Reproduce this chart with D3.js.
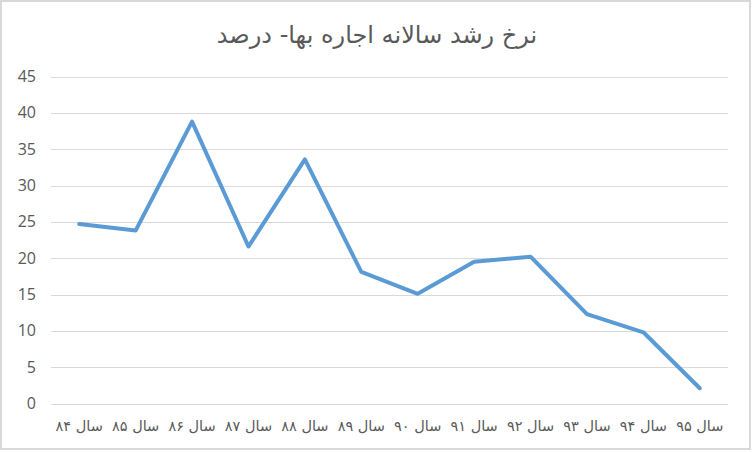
<!DOCTYPE html>
<html>
<head>
<meta charset="utf-8">
<script src="https://cdn.jsdelivr.net/npm/d3@7"></script>
<style>
html,body{margin:0;padding:0;background:#fff;}
svg{display:block;}
</style>
</head>
<body>
<svg id="chart" width="752" height="452"></svg>
<script>
const title = "نرخ رشد سالانه اجاره بها- درصد";
const categories = ["سال ۸۴","سال ۸۵","سال ۸۶","سال ۸۷","سال ۸۸","سال ۸۹","سال ۹۰","سال ۹۱","سال ۹۲","سال ۹۳","سال ۹۴","سال ۹۵"];
const values = [24.7, 23.8, 38.8, 21.6, 33.6, 18.1, 15.1, 19.5, 20.2, 12.3, 9.8, 2.1];
const yTicks = [0, 5, 10, 15, 20, 25, 30, 35, 40, 45];

const svg = d3.select("#chart");
const W = 752, H = 452;
const margin = {left: 51, right: 24, top: 76.5, bottom: 48.5};

svg.append("rect").attr("x",1).attr("y",1).attr("width",W-3).attr("height",H-4)
  .attr("fill","#fff").attr("stroke","#d9d9d9").attr("stroke-width",2);

const x = d3.scaleBand().domain(categories).range([margin.left, W - margin.right]).paddingInner(0).paddingOuter(0);
const y = d3.scaleLinear().domain([0,45]).range([H - margin.bottom, margin.top]);

// gridlines
svg.append("g").selectAll("line").data(yTicks).join("line")
  .attr("x1", margin.left).attr("x2", W - margin.right)
  .attr("y1", d => Math.round(y(d)) + 0.5).attr("y2", d => Math.round(y(d)) + 0.5)
  .attr("stroke", "#d9d9d9").attr("stroke-width", 1);

// y axis labels
const yAxis = d3.axisLeft(y).tickValues(yTicks).tickSize(0).tickPadding(0);
const gy = svg.append("g").attr("transform", `translate(36,0)`).call(yAxis);
gy.select(".domain").remove();
gy.selectAll("text").attr("font-family","'Open Sans', 'DejaVu Sans', sans-serif").attr("font-size",16).attr("fill","#595959");

// x axis labels
const xAxis = d3.axisBottom(x).tickSize(0).tickPadding(0);
const gx = svg.append("g").attr("transform", `translate(0,${H - margin.bottom})`).call(xAxis);
gx.select(".domain").remove();
gx.selectAll("text").attr("font-family","'DejaVu Sans', sans-serif").attr("font-size",14.5)
  .attr("fill","#595959").attr("direction","rtl").attr("dy",null).attr("y",27);

// line
const line = d3.line().x((d,i) => x(categories[i]) + x.bandwidth()/2).y(d => y(d));
svg.append("path").datum(values).attr("d", line)
  .attr("fill","none").attr("stroke","#5b9bd5").attr("stroke-width",4)
  .attr("stroke-linejoin","round").attr("stroke-linecap","round");

// title
svg.append("text").attr("x", 377).attr("y", 43).attr("text-anchor","middle")
  .attr("direction","rtl")
  .attr("font-family","'DejaVu Sans', sans-serif").attr("font-size",24)
  .attr("fill","#595959").text(title);
</script>
</body>
</html>
